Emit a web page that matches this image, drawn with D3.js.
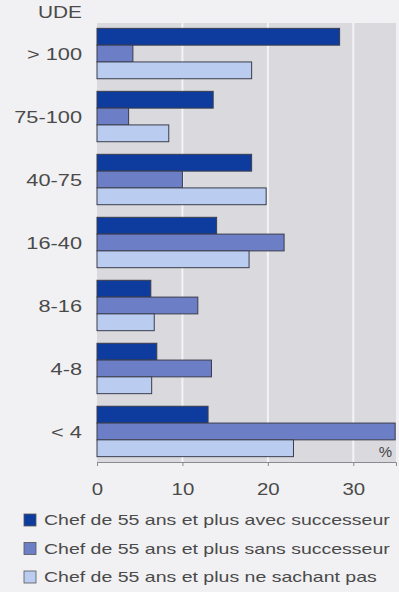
<!DOCTYPE html>
<html>
<head>
<meta charset="utf-8">
<script src="https://cdn.jsdelivr.net/npm/d3@7"></script>
<style>
  html, body { margin: 0; padding: 0; background: #f1f1f3; }
  svg { display: block; font-family: "Liberation Sans", Arial, sans-serif; }
</style>
</head>
<body>
<svg id="chart" width="399" height="592"></svg>
<script>
// Exploitations by size class (UDE), share of farm heads aged 55+ by succession status (%)
const categories = ["> 100", "75-100", "40-75", "16-40", "8-16", "4-8", "< 4"];
const avecSuccesseur = [28.4, 13.6, 18.1, 14.0, 6.3, 7.0, 13.0];
const sansSuccesseur = [4.2, 3.7, 10.0, 21.9, 11.8, 13.4, 34.9];
const neSachantPas = [18.1, 8.4, 19.8, 17.8, 6.7, 6.4, 23.0];
const xTicks = [0, 10, 20, 30];
const seriesNames = [
  "Chef de 55 ans et plus avec successeur",
  "Chef de 55 ans et plus sans successeur",
  "Chef de 55 ans et plus ne sachant pas"
];
const seriesColors = ["#0d3c9e", "#6c7ec6", "#bacdf0"];

const series = [avecSuccesseur, sansSuccesseur, neSachantPas];
const svg = d3.select("#chart");

const plot = { left: 97, right: 396, top: 23, bottom: 462 };

const x = d3.scaleLinear().domain([0, 35]).range([plot.left, plot.right]);
const y = d3.scaleBand().domain(categories)
  .range([plot.top, plot.bottom]).paddingInner(0.2).paddingOuter(0.085);
const sub = d3.scaleBand().domain(d3.range(series.length)).range([0, y.bandwidth()]);

// widen the typeface horizontally, as in the printed figure
function widen(sel, factor) {
  sel.each(function () {
    const len = this.getComputedTextLength();
    d3.select(this)
      .attr("textLength", len * factor)
      .attr("lengthAdjust", "spacingAndGlyphs");
  });
}

// plot background
svg.append("rect")
  .attr("x", plot.left).attr("y", plot.top)
  .attr("width", plot.right - plot.left).attr("height", plot.bottom - plot.top)
  .attr("fill", "#d9d9de");

// vertical gridlines
svg.append("g").selectAll("line")
  .data(xTicks.filter(d => d > 0))
  .join("line")
  .attr("x1", d => x(d)).attr("x2", d => x(d))
  .attr("y1", plot.top).attr("y2", plot.bottom)
  .attr("stroke", "#f4f4f6").attr("stroke-width", 2);

// bars
const groups = svg.append("g").selectAll("g")
  .data(categories)
  .join("g")
  .attr("transform", d => `translate(0,${y(d)})`);

groups.selectAll("rect")
  .data((c, i) => series.map((s, k) => ({ k, v: s[i] })))
  .join("rect")
  .attr("x", x(0))
  .attr("y", d => sub(d.k))
  .attr("width", d => x(d.v) - x(0))
  .attr("height", sub.bandwidth())
  .attr("fill", d => seriesColors[d.k])
  .attr("stroke", "#3b3d4c")
  .attr("stroke-width", 1);

// x axis
const xAxis = svg.append("g")
  .attr("transform", `translate(0,${plot.bottom})`)
  .call(d3.axisBottom(x).tickValues(xTicks).tickSize(4).tickPadding(17));
xAxis.select(".domain").attr("stroke", "#8a8a90");
xAxis.selectAll(".tick line").attr("stroke", "#8a8a90");
xAxis.selectAll(".tick text")
  .attr("fill", "#4a4a4a")
  .style("font-size", "17px")
  .call(widen, 1.2);

// category labels
svg.append("g").selectAll("text")
  .data(categories)
  .join("text")
  .attr("x", 82)
  .attr("y", d => y(d) + y.bandwidth() / 2)
  .attr("dy", "0.36em")
  .attr("text-anchor", "end")
  .attr("fill", "#4a4a4a")
  .style("font-size", "17px")
  .text(d => d)
  .call(widen, 1.28);

svg.append("text")
  .attr("x", 82).attr("y", 12).attr("dy", "0.36em")
  .attr("text-anchor", "end")
  .attr("fill", "#4a4a4a")
  .style("font-size", "16px")
  .text("UDE")
  .call(widen, 1.3);

svg.append("text")
  .attr("x", 392).attr("y", 452).attr("dy", "0.36em")
  .attr("text-anchor", "end")
  .attr("fill", "#444")
  .style("font-size", "15px")
  .text("%");

// legend
const legend = svg.append("g").selectAll("g")
  .data(seriesNames)
  .join("g")
  .attr("transform", (d, i) => `translate(24,${520 + i * 28.5})`);

legend.append("rect")
  .attr("x", 0).attr("y", -6)
  .attr("width", 12).attr("height", 12)
  .attr("fill", (d, i) => seriesColors[i])
  .attr("stroke", "#555").attr("stroke-width", 0.8);

legend.append("text")
  .attr("x", 20).attr("y", 0).attr("dy", "0.36em")
  .attr("fill", "#4a4a4a")
  .style("font-size", "15px")
  .text(d => d)
  .call(widen, 1.3);
</script>
</body>
</html>
